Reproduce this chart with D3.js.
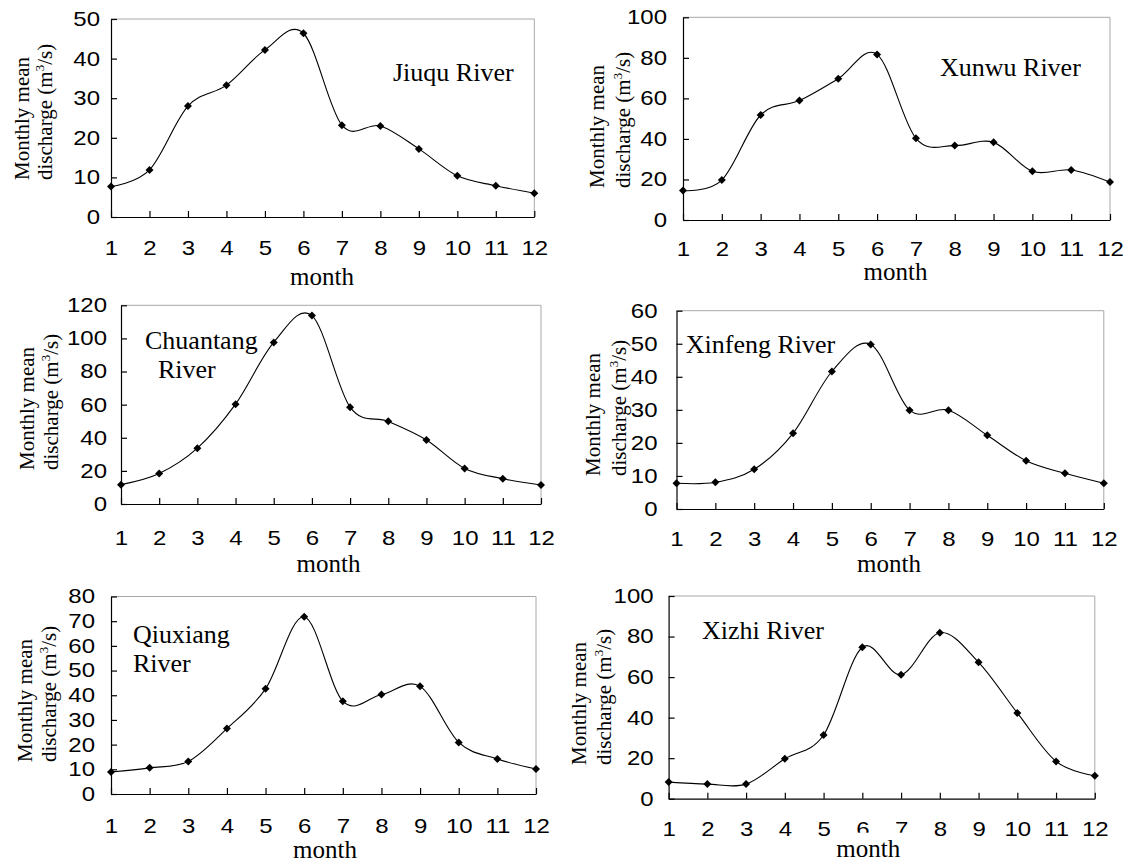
<!DOCTYPE html>
<html>
<head>
<meta charset="utf-8">
<script src="https://cdn.jsdelivr.net/npm/d3@7"></script>
<style>
  body { margin: 0; background: #fff; }
  svg { display: block; }
</style>
</head>
<body>
<svg id="fig" width="1124" height="862"></svg>
<script>
// Monthly mean discharge (m3/s) of six rivers
const months = [1, 2, 3, 4, 5, 6, 7, 8, 9, 10, 11, 12];

const jiuqu     = [7.7, 11.9, 28.0, 33.3, 42.2, 46.4, 23.2, 23.0, 17.2, 10.4, 7.9, 6.0];
const xunwu     = [14.5, 19.7, 51.8, 58.9, 69.7, 81.7, 40.3, 36.7, 38.3, 24.0, 24.7, 18.7];
const chuantang = [11.7, 18.4, 33.7, 60.3, 97.6, 113.8, 58.5, 49.9, 38.7, 21.5, 15.3, 11.5];
const xinfeng   = [7.8, 8.1, 12.0, 22.9, 41.6, 49.8, 29.9, 29.9, 22.3, 14.6, 10.8, 7.8];
const qiuxiang  = [8.9, 10.6, 13.2, 26.5, 42.6, 71.8, 37.6, 40.3, 43.6, 20.9, 14.2, 10.1];
const xizhi     = [8.2, 7.2, 7.2, 19.7, 31.4, 74.7, 61.2, 81.9, 67.3, 42.3, 18.4, 11.3];

const series = [jiuqu, xunwu, chuantang, xinfeng, qiuxiang, xizhi];
const riverNames = [["Jiuqu River"], ["Xunwu River"], ["Chuantang", "River"],
                    ["Xinfeng River"], ["Qiuxiang", "River"], ["Xizhi River"]];
const yMax  = [50, 100, 120, 60, 80, 100];
const yStep = [10, 20, 20, 10, 10, 20];

const xTitle = "month";
const yTitle1 = "Monthly mean";
const yTitle2 = ["discharge (m", "3", "/s)"];

// Panel placement on the page
const layout = [
  { l: 111,   r: 534.3,  t: 19,    b: 217,   gap: 11, xDy: 38, mX: 322,   mY: 285,   tx1: 29,  tx2: 52,    ty: 180, names: [[393, 81]] },
  { l: 683,   r: 1110,   t: 17.3,  b: 220,   gap: 16, xDy: 36, mX: 895.5, mY: 280,   tx1: 604, tx2: 630,   ty: 188, names: [[940, 76]] },
  { l: 121,   r: 541,    t: 305.3, b: 504,   gap: 14, xDy: 41, mX: 328.5, mY: 571.7, tx1: 34,  tx2: 58,    ty: 470, names: [[145, 349], [158, 378]] },
  { l: 676.5, r: 1103.8, t: 310.7, b: 509,   gap: 19, xDy: 37, mX: 889,   mY: 571.7, tx1: 600, tx2: 625.6, ty: 476, names: [[685.8, 352.7]] },
  { l: 111,   r: 536,    t: 596.5, b: 794,   gap: 16, xDy: 39, mX: 325,   mY: 858,   tx1: 32,  tx2: 56,    ty: 762, names: [[133, 643], [133, 672]] },
  { l: 668.6, r: 1094.8, t: 596,   b: 798.7, gap: 15, xDy: 37, mX: 868.3, mY: 856.7, tx1: 586, tx2: 610.5, ty: 765, names: [[702, 639]], boxed: true }
];

const SANS = "'Liberation Sans', Arial, sans-serif";
const SERIF = "'Liberation Serif', 'Times New Roman', serif";
const TICK_FONT = 20;
const TICK_WIDEN = 1.2;   // tick numerals are set slightly wide

const svg = d3.select("#fig");

series.forEach((vals, i) => {
  const L = layout[i];
  const x = d3.scaleLinear().domain([1, 12]).range([L.l, L.r]);
  const y = d3.scaleLinear().domain([0, yMax[i]]).range([L.b, L.t]);
  const g = svg.append("g");

  // light frame on top and right
  g.append("path")
    .attr("d", `M${L.l},${L.t}H${L.r}V${L.b}`)
    .attr("fill", "none")
    .attr("stroke", "#a8a8a8")
    .attr("stroke-width", 1);

  // x axis with inward ticks
  const xa = g.append("g")
    .attr("transform", `translate(0,${L.b})`)
    .call(d3.axisBottom(x).tickValues(months).tickSize(-6).tickSizeOuter(0).tickFormat(d3.format("d")));
  xa.attr("font-family", SANS).attr("font-size", TICK_FONT);
  xa.selectAll("text")
    .attr("dy", 0).attr("y", 0)
    .attr("transform", `translate(0,${L.xDy}) scale(${TICK_WIDEN},1)`)
    .attr("fill", "#000");
  xa.selectAll("line, path").attr("stroke", "#000").attr("stroke-width", 1.2);

  // y axis with inward ticks
  const ya = g.append("g")
    .attr("transform", `translate(${L.l},0)`)
    .call(d3.axisLeft(y).tickValues(d3.range(0, yMax[i] + 1, yStep[i])).tickSize(-6).tickSizeOuter(0));
  ya.attr("font-family", SANS).attr("font-size", TICK_FONT);
  ya.selectAll("text")
    .attr("x", 0)
    .attr("transform", `translate(${-L.gap},0) scale(${TICK_WIDEN},1)`)
    .attr("fill", "#000");
  ya.selectAll("line, path").attr("stroke", "#000").attr("stroke-width", 1.2);

  // smoothed discharge curve
  const pts = months.map((m, k) => [m, vals[k]]);
  g.append("path")
    .datum(pts)
    .attr("fill", "none")
    .attr("stroke", "#000")
    .attr("stroke-width", 1.1)
    .attr("d", d3.line().x(d => x(d[0])).y(d => y(d[1])).curve(d3.curveCatmullRom.alpha(0)));

  // diamond markers
  const diamond = d3.symbol().type(d3.symbolSquare).size(32);
  g.selectAll("path.mk")
    .data(pts)
    .join("path")
    .attr("class", "mk")
    .attr("d", diamond)
    .attr("transform", d => `translate(${x(d[0])},${y(d[1])}) rotate(45)`)
    .attr("fill", "#000");

  // month label (the last panel's label sits on an opaque box)
  const mt = g.append("text")
    .attr("x", L.mX).attr("y", L.mY)
    .attr("text-anchor", "middle")
    .attr("font-family", SERIF).attr("font-size", 25)
    .attr("fill", "#000")
    .text(xTitle);
  if (L.boxed) {
    const bb = mt.node().getBBox();
    g.insert("rect", () => mt.node())
      .attr("x", bb.x - 5).attr("y", bb.y - 2)
      .attr("width", bb.width + 10).attr("height", bb.height + 4)
      .attr("fill", "#fff");
  }

  // y axis title (two lines)
  g.append("text")
    .attr("transform", `translate(${L.tx1},${L.ty}) rotate(-90)`)
    .attr("font-family", SERIF).attr("font-size", 21).attr("fill", "#000")
    .text(yTitle1);
  const t2 = g.append("text")
    .attr("transform", `translate(${L.tx2},${L.ty}) rotate(-90)`)
    .attr("font-family", SERIF).attr("font-size", 21).attr("fill", "#000");
  t2.append("tspan").text(yTitle2[0]);
  t2.append("tspan").attr("dy", -8).attr("font-size", 13).text(yTitle2[1]);
  t2.append("tspan").attr("dy", 8).text(yTitle2[2]);

  // river name
  riverNames[i].forEach((line, k) => {
    g.append("text")
      .attr("x", L.names[k][0]).attr("y", L.names[k][1])
      .attr("font-family", SERIF).attr("font-size", 26).attr("fill", "#000")
      .text(line);
  });
});
</script>
</body>
</html>
